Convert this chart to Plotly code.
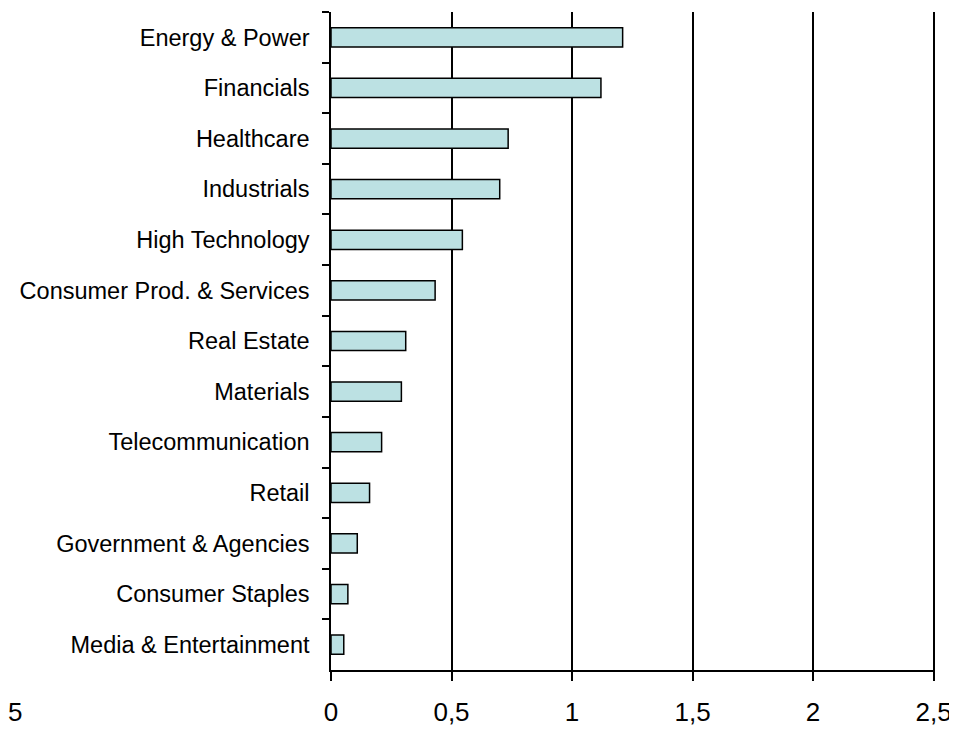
import plotly.graph_objs as go

SECTORS = ['Energy & Power', 'Financials', 'Healthcare', 'Industrials',
           'High Technology', 'Consumer Prod. & Services', 'Real Estate',
           'Materials', 'Telecommunication', 'Retail',
           'Government & Agencies', 'Consumer Staples',
           'Media & Entertainment']
VALUES = [1.21, 1.12, 0.735, 0.70, 0.545, 0.432, 0.31, 0.292, 0.21, 0.16,
          0.109, 0.07, 0.053]
X_TICKS = [0, 0.5, 1, 1.5, 2, 2.5]

FONT = dict(family='Liberation Sans, Arial, sans-serif', size=23.5, color='black')
TICK_FONT = dict(family='Liberation Sans, Arial, sans-serif', size=26, color='black')

trace = go.Bar(
    x=VALUES,
    y=SECTORS,
    orientation='h',
    width=0.38,
    marker=dict(color='#BCE1E3', line=dict(color='black', width=1.5)),
    hoverinfo='x+y'
)

# page body has an 8px margin, so the figure is sized to fit the window
layout = go.Layout(
    width=949,
    height=723,
    margin=dict(l=323, r=21.5, t=4, b=59),
    paper_bgcolor='white',
    plot_bgcolor='white',
    font=FONT,
    separators=', ',
    showlegend=False,
    xaxis=dict(
        # a bit past 2.5 so plotly keeps the last gridline
        range=[0, 2.506],
        tickvals=X_TICKS,
        ticks='outside',
        ticklen=9,
        tickwidth=1.5,
        tickcolor='black',
        showgrid=True,
        gridcolor='black',
        gridwidth=1.5,
        zeroline=False,
        showline=True,
        linecolor='black',
        linewidth=1.5,
        ticklabelstandoff=9,
        tickfont=TICK_FONT,
    ),
    yaxis=dict(
        categoryorder='array',
        categoryarray=SECTORS,
        autorange='reversed',
        ticks='outside',
        tickson='boundaries',
        ticklen=7,
        tickwidth=1.5,
        tickcolor='black',
        showgrid=False,
        zeroline=False,
        showline=True,
        linecolor='black',
        linewidth=1.5,
        ticklabelstandoff=15,
        tickfont=FONT,
    ),
    # stray label fragment at the bottom-left corner of the original
    annotations=[dict(
        text='5', xref='paper', yref='paper', x=-0.508, y=-0.0636,
        xanchor='right', yanchor='middle', showarrow=False,
        font=TICK_FONT
    )]
)

fig = go.Figure(data=[trace], layout=layout)
fig.write_html('out.html')
